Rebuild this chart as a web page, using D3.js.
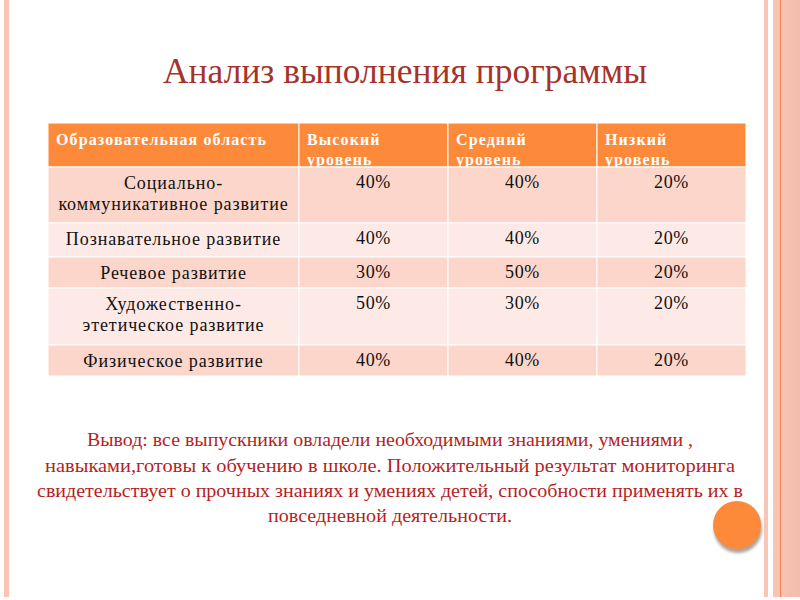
<!DOCTYPE html>
<html><head><meta charset="utf-8">
<script src="https://cdn.jsdelivr.net/npm/d3@7"></script>
<style>body{margin:0;background:#fff}svg{display:block}</style>
</head><body>
<script>
const title = "Анализ выполнения программы";
const headers = [["Образовательная область"], ["Высокий", "уровень"], ["Средний", "уровень"], ["Низкий", "уровень"]];
const categories = [["Социально-", "коммуникативное развитие"], ["Познавательное развитие"], ["Речевое развитие"], ["Художественно-", "этетическое развитие"], ["Физическое развитие"]];
const high = [40, 40, 30, 50, 40];
const mid = [40, 40, 50, 30, 40];
const low = [20, 20, 20, 20, 20];
const conclusion = [
  "Вывод: все выпускники овладели необходимыми знаниями, умениями ,",
  "навыками,готовы к обучению в школе. Положительный результат мониторинга",
  "свидетельствует о прочных знаниях и умениях детей, способности применять их в",
  "повседневной деятельности."
];

const W = 800, H = 600;
const SERIF = "'Liberation Serif', 'Times New Roman', serif";
const svg = d3.select("body").append("svg").attr("width", W).attr("height", H);
const defs = svg.append("defs");

// decorative borders
svg.append("rect").attr("x", 4).attr("y", 0).attr("width", 5).attr("height", 597).attr("fill", "#FBC4B4");
svg.append("rect").attr("x", 764).attr("y", 0).attr("width", 4).attr("height", 597).attr("fill", "#F9C6B6");
const grad = defs.append("linearGradient").attr("id", "band");
grad.append("stop").attr("offset", "0%").attr("stop-color", "#F8C6B6");
grad.append("stop").attr("offset", "100%").attr("stop-color", "#F3BCAB");
svg.append("rect").attr("x", 773).attr("y", 0).attr("width", 27).attr("height", 597).attr("fill", "url(#band)");
svg.append("rect").attr("x", 780).attr("y", 0).attr("width", 1).attr("height", 597).attr("fill", "#F2834F");

// title
svg.append("text").attr("x", 405).attr("y", 83).attr("text-anchor", "middle")
  .attr("font-family", SERIF).attr("font-size", 36).attr("fill", "#A5332B")
  .attr("textLength", 484).attr("lengthAdjust", "spacingAndGlyphs").text(title);

// table scales
const colKeys = ["cat", "high", "mid", "low"];
const xLeft = d3.scaleOrdinal().domain(colKeys).range([48, 299, 448, 597]);
const xWidth = d3.scaleOrdinal().domain(colKeys).range([251, 149, 149, 149]);
const rowKeys = ["h", 0, 1, 2, 3, 4];
const yTop = d3.scaleOrdinal().domain(rowKeys).range([123, 167, 223, 257, 288, 345]);
const yHeight = d3.scaleOrdinal().domain(rowKeys).range([44, 56, 34, 31, 57, 31]);
const fmt = v => v + "%";
const lineH = 21;

// header
colKeys.forEach(k => {
  svg.append("rect").attr("x", xLeft(k)).attr("y", yTop("h")).attr("width", xWidth(k)).attr("height", yHeight("h"))
    .attr("fill", "#FD8A3B").attr("stroke", "#fff").attr("stroke-width", 1);
});
defs.append("clipPath").attr("id", "hclip").append("rect")
  .attr("x", 48).attr("y", yTop("h")).attr("width", 698).attr("height", yHeight("h"));
const ht = svg.append("g").attr("clip-path", "url(#hclip)");
colKeys.forEach((k, i) => {
  headers[i].forEach((ln, j) => {
    ht.append("text").attr("x", xLeft(k) + 8).attr("y", 145 + j * 20)
      .attr("font-family", SERIF).attr("font-weight", "bold").attr("font-size", 16)
      .attr("letter-spacing", 1.1).attr("fill", "#fff").text(ln);
  });
});

// body
categories.forEach((cat, r) => {
  const fill = r % 2 === 0 ? "#FCD6CB" : "#FDEAE6";
  colKeys.forEach(k => {
    svg.append("rect").attr("x", xLeft(k)).attr("y", yTop(r)).attr("width", xWidth(k)).attr("height", yHeight(r))
      .attr("fill", fill).attr("stroke", "#fff").attr("stroke-width", 1);
  });
  const base = yTop(r) + 22;
  cat.forEach((ln, j) => {
    svg.append("text").attr("x", xLeft("cat") + xWidth("cat") / 2).attr("y", base + j * lineH)
      .attr("text-anchor", "middle").attr("font-family", SERIF).attr("font-size", 18)
      .attr("letter-spacing", 0.9).attr("fill", "#111").text(ln);
  });
  [["high", high], ["mid", mid], ["low", low]].forEach(([k, arr]) => {
    svg.append("text").attr("x", xLeft(k) + xWidth(k) / 2).attr("y", base - 1)
      .attr("text-anchor", "middle").attr("font-family", SERIF).attr("font-size", 18)
      .attr("letter-spacing", 0.6).attr("fill", "#111").text(fmt(arr[r]));
  });
});

// conclusion
const cBase = [446, 472, 497, 522];
const cLen = [606, 690, 706, 244];
conclusion.forEach((ln, i) => {
  svg.append("text").attr("x", 390).attr("y", cBase[i]).attr("text-anchor", "middle")
    .attr("font-family", SERIF).attr("font-size", 18).attr("fill", "#B51F24")
    .attr("textLength", cLen[i]).attr("lengthAdjust", "spacingAndGlyphs").text(ln);
});

// orange circle with shadow
defs.append("filter").attr("id", "blur").append("feGaussianBlur").attr("stdDeviation", 1.5);
svg.append("circle").attr("cx", 738).attr("cy", 529).attr("r", 24).attr("fill", "#8a7a74").attr("opacity", 0.7).attr("filter", "url(#blur)");
svg.append("circle").attr("cx", 737).attr("cy", 525).attr("r", 24).attr("fill", "#FD8A3B");
</script>
</body></html>
